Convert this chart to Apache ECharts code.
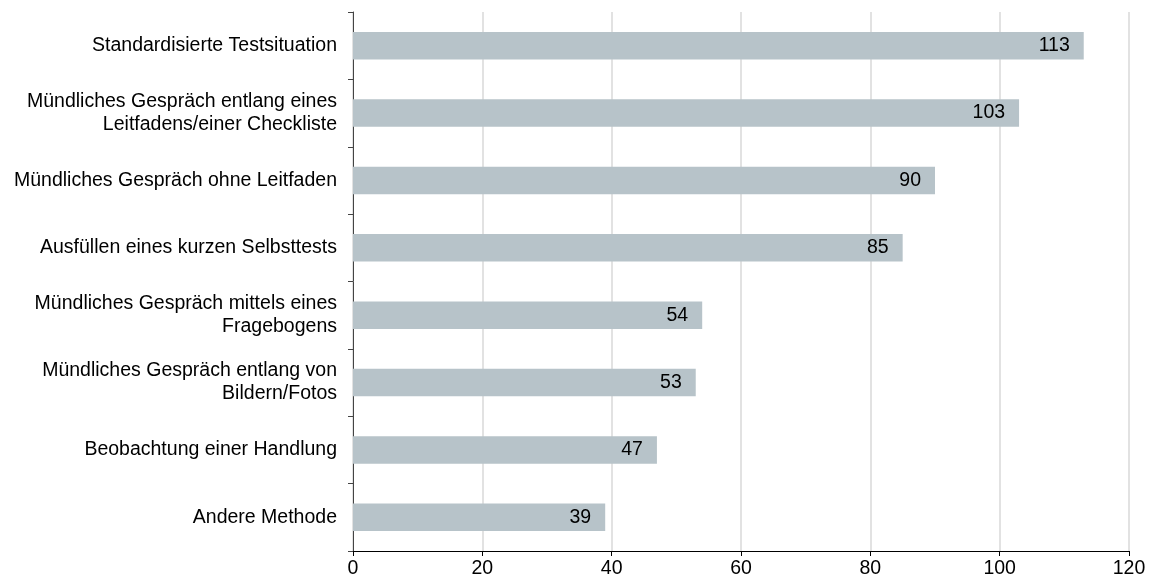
<!DOCTYPE html>
<html>
<head>
<meta charset="utf-8">
<script src="https://cdn.jsdelivr.net/npm/echarts@6/dist/echarts.min.js"></script>
<style>
  html, body { margin: 0; padding: 0; background: #fff; }
  #chart { width: 1151px; height: 583px; }
</style>
</head>
<body>
<div id="chart"></div>
<script>
var categories = [
  'Standardisierte Testsituation',
  'Mündliches Gespräch entlang eines\nLeitfadens/einer Checkliste',
  'Mündliches Gespräch ohne Leitfaden',
  'Ausfüllen eines kurzen Selbsttests',
  'Mündliches Gespräch mittels eines\nFragebogens',
  'Mündliches Gespräch entlang von\nBildern/Fotos',
  'Beobachtung einer Handlung',
  'Andere Methode'
]
var values = [113, 103, 90, 85, 54, 53, 47, 39]

var chart = echarts.init(document.getElementById('chart'))
chart.setOption({
  animation: false,
  textStyle: { fontFamily: 'Liberation Sans, Arial, sans-serif' },
  grid: { left: 353, right: 22, top: 12, bottom: 32, containLabel: false },
  xAxis: {
    type: 'value',
    min: 0,
    max: 120,
    interval: 20,
    axisLine: { show: true, lineStyle: { color: '#000', width: 1 } },
    axisTick: { show: true, length: 5, lineStyle: { color: '#000' } },
    axisLabel: { color: '#000', fontSize: 19.5, margin: 8 },
    splitLine: { show: true, lineStyle: { color: '#d9d9d9', width: 1.5 } }
  },
  yAxis: {
    type: 'category',
    inverse: true,
    data: categories,
    axisLine: { show: true, lineStyle: { color: '#444', width: 1 } },
    axisTick: { show: true, length: 5, lineStyle: { color: '#444' } },
    axisLabel: { color: '#000', fontSize: 19.5, margin: 16, align: 'right', lineHeight: 23 }
  },
  series: [
    {
      type: 'bar',
      data: values,
      barWidth: '41%',
      itemStyle: { color: '#b7c3c9' },
      label: {
        show: true,
        position: 'insideRight',
        distance: 14,
        color: '#000',
        fontSize: 19.5
      }
    }
  ]
})
</script>
</body>
</html>
